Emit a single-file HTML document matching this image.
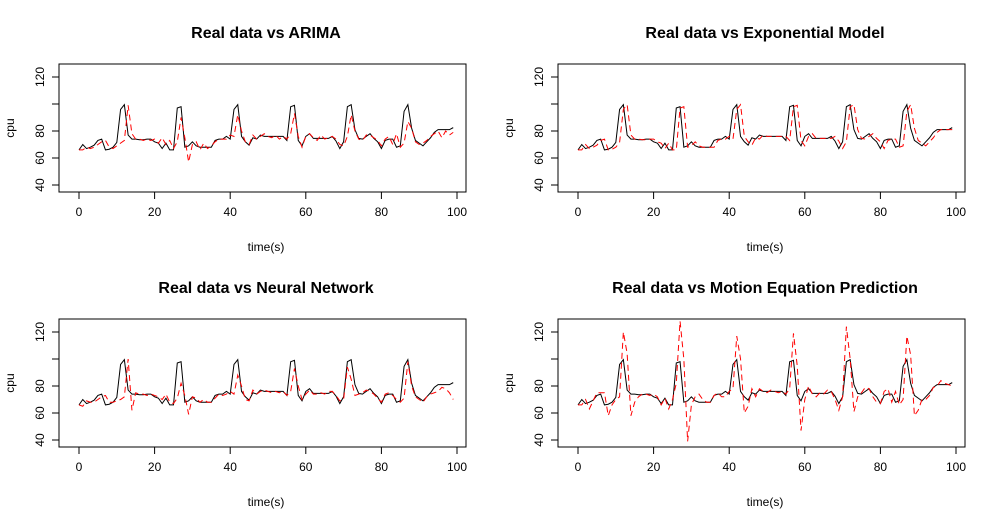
<!DOCTYPE html>
<html><head><meta charset="utf-8"><style>
html,body{margin:0;padding:0;background:#fff;}
svg{display:block;font-family:"Liberation Sans",Arial,sans-serif;}
</style></head><body>
<svg id="chart" width="1000" height="510"></svg>
<script>
const realCpu=[66,70,67,68,69.5,73,74,66,66.5,68,71.5,96,99.5,77,74,74,73.5,73.5,74,74,72,71,67,71,66,66,97,98,68,69,72,69,68,68,68,68,73,74,74,76,74,96,99.5,76,72,69.5,75,74,77,76,76,76,76,76,76,73,98,99,73,69,76,78,74.5,74.5,74.5,74.5,74.5,76,72.5,67,72,98,99.5,81,74.5,74,76,78,74.5,72,67,73,74,74,68,69,94.5,99.5,82,73,71,69,72,75,79,81,81,81,81,82.5];
const arimaPred=[66,66,68,67,68,70,72,73,68,67,69,71,73,99,78,74,74,73,74,73,74,71,75,70,73,67,72,90,75,57,70,72,66,71,67,69,72,74,74,74,77,76,92,80,72,70,77,74,76,78,76,75,77,74,76,74,78,93,76,68,76,78,75,73,77,74,75,76,74,70,69,76,92,80,74,73,77,77,75,73,69,74,76,70,78,68,71,87,82,72,70,71,73,76,78,80,75,80,77,79];
const expPred=[66,66,70,67,68,69.5,73,74,66,66.5,68,71.5,96,99.5,77,74,74,73.5,73.5,74,74,72,71,67,71,66,66,97,98,68,69,72,69,68,68,68,68,73,74,74,76,74,96,99.5,76,72,69.5,75,74,77,76,76,76,76,76,76,73,98,99,73,69,76,78,74.5,74.5,74.5,74.5,74.5,76,72.5,67,72,98,99.5,81,74.5,74,76,78,74.5,72,67,73,74,74,68,69,94.5,99.5,82,73,71,69,72,75,79,81,81,81,81];
const nnPred=[66,65,69,68,68,70,72,73,68,68,69,70,72,100,62,75,74,74,73,74,73,72,70,74,68,67,71,82,73,59,72,71,68,70,68,68,71,74,73,74,76,74,88,80,70,69,77,74,76,77,76,75,76,75,76,73,76,93,80,70,74,77,74,74,75,74,76,76,73,69,70,94,85,73,74,75,77,76,74,71,68,74,75,73,70,68,71,98,80,72,70,68,72,74,75,76,79,78,75,70];
const motionPred=[66,66,70,63,69,75,75,75,58,66,70,72,120,104,58,68,72,74,74,73,74,72,66,71,63,70,82,128,100,39,66,72,74,70,68,68,73,75,72,72,76,78,117,100,60,65,78,72,78,76,75,77,76,75,76,74,78,119,95,47,70,80,74,72,75,74,77,76,70,62,72,124,100,61,72,75,79,78,72,68,67,76,78,68,76,66,70,117,103,58,62,70,70,73,79,80,84,82,81,80];
const xTicks=[0,20,40,60,80,100];
const yTicks=[40,60,80,100,120];
const yTickLabels=["40","60","80","","120"];
const panelTitles=["Real data vs ARIMA","Real data vs Exponential Model","Real data vs Neural Network","Real data vs Motion Equation Prediction"];

const svg=document.getElementById('chart');
const NS='http://www.w3.org/2000/svg';
function mk(tag,attrs,parent){const e=document.createElementNS(NS,tag);for(const k in attrs)e.setAttribute(k,attrs[k]);(parent||svg).appendChild(e);return e;}
const preds=[arimaPred,expPred,nnPred,motionPred];
const keys=['arima','exponential','neural-network','motion-equation'];
preds.forEach((pred,i)=>{
  const dx=(i%2)*499, dy=Math.floor(i/2)*255;
  const xs=v=>79+dx+v*3.78;
  const ys=v=>131+dy-(v-80)*1.35;
  const g=mk('g',{});
  
  
  const t=mk('text',{x:266+dx,y:38+dy,'text-anchor':'middle','font-size':'16','font-weight':'bold'},g);
  t.textContent=panelTitles[i];
  
  
  const box=mk('rect',{x:59+dx,y:64+dy,width:407,height:128,fill:'none',stroke:'#000','stroke-width':1},g);
  
  
  xTicks.forEach(v=>{
    mk('line',{x1:xs(v),x2:xs(v),y1:192+dy,y2:199+dy,stroke:'#000'},g);
    const l=mk('text',{x:xs(v),y:216+dy,'text-anchor':'middle','font-size':'12'},g);
    l.textContent=v;
    
    
  });
  mk('line',{x1:xs(0),x2:xs(100),y1:192+dy,y2:192+dy,stroke:'#000'},g);
  yTicks.forEach((v,j)=>{
    mk('line',{x1:59+dx,x2:52+dx,y1:ys(v),y2:ys(v),stroke:'#000'},g);
    const l=mk('text',{x:44+dx,y:ys(v),'text-anchor':'middle','font-size':'12',transform:`rotate(-90 ${44+dx} ${ys(v)})`},g);
    l.textContent=yTickLabels[j];
    
    
  });
  const xt=mk('text',{x:266+dx,y:251+dy,'text-anchor':'middle','font-size':'12'},g);
  xt.textContent='time(s)';
  
  
  const yt=mk('text',{x:14+dx,y:128+dy,'text-anchor':'middle','font-size':'12',transform:`rotate(-90 ${14+dx} ${128+dy})`},g);
  yt.textContent='cpu';
  
  
  const rl=mk('polyline',{points:realCpu.map((v,k)=>xs(k)+','+ys(v)).join(' '),fill:'none',stroke:'#000','stroke-width':1},g);
  
  
  const pl=mk('polyline',{points:pred.map((v,k)=>xs(k)+','+ys(v)).join(' '),fill:'none',stroke:'#ff0000','stroke-width':1,'stroke-dasharray':'6,4'},g);
  
  
});
</script>
</body></html>
